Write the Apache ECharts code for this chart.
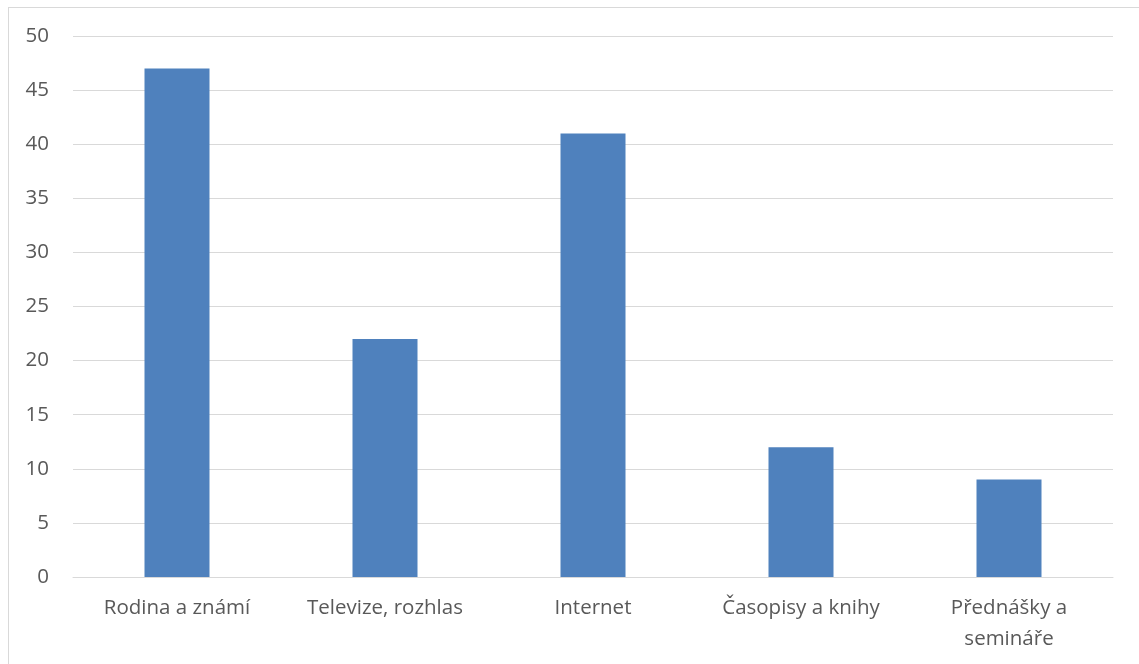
<!DOCTYPE html>
<html>
<head>
<meta charset="utf-8">
<script src="https://cdn.jsdelivr.net/npm/echarts@6/dist/echarts.min.js"></script>
<style>
  html, body { margin: 0; padding: 0; background: #fff; }
  #frame { position: absolute; left: 8px; top: 7px; width: 1140px; height: 670px; border: 1px solid #d9d9d9; box-sizing: border-box; }
  #chart { position: absolute; left: 0; top: 0; width: 1139px; height: 664px; }
</style>
</head>
<body>
<div id="frame"></div>
<div id="chart"></div>
<script>
// Sources of information
const categories = ['Rodina a známí', 'Televize, rozhlas', 'Internet', 'Časopisy a knihy', 'Předn\u00e1šky a\nsemin\u00e1\u0159e'];
const values = [47, 22, 41, 12, 9];
const yTicks = { min: 0, max: 50, interval: 5 };

const chart = echarts.init(document.getElementById('chart'), null, { renderer: 'canvas' });
const textStyle = { color: '#595959', fontFamily: 'Open Sans, Noto Sans, sans-serif', fontSize: 20.5 };

chart.setOption({
  animation: false,
  grid: { left: 73, right: 26, top: 36, bottom: 87, containLabel: false },
  xAxis: {
    type: 'category',
    data: categories,
    axisLine: { show: true, lineStyle: { color: '#d9d9d9', width: 1 } },
    axisTick: { show: false },
    axisLabel: Object.assign({ margin: 16, lineHeight: 31, interval: 0 }, textStyle)
  },
  yAxis: {
    type: 'value',
    min: yTicks.min,
    max: yTicks.max,
    interval: yTicks.interval,
    axisLine: { show: false },
    axisTick: { show: false },
    splitLine: { lineStyle: { color: '#d9d9d9', width: 1 } },
    axisLabel: Object.assign({ margin: 24 }, textStyle)
  },
  series: [{
    type: 'bar',
    data: values,
    barWidth: 65,
    itemStyle: { color: '#4f81bd' }
  }]
});
</script>
</body>
</html>
